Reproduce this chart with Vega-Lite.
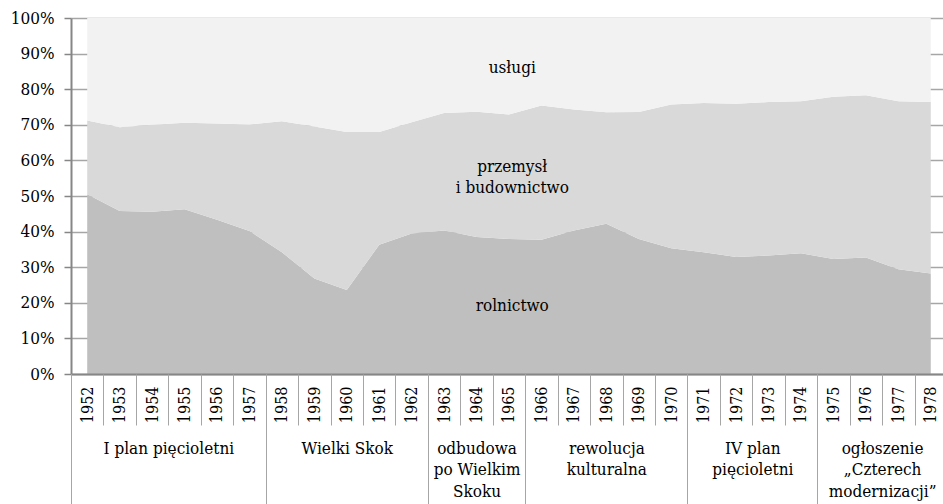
{
  "$schema": "https://vega.github.io/schema/vega-lite/v6.json",
  "width": 872,
  "height": 356,
  "autosize": "none",
  "padding": {"left": 71, "top": 18, "right": 0, "bottom": 130},
  "background": "white",
  "config": {
    "view": {"stroke": null},
    "font": "DejaVu Serif Condensed",
    "text": {"font": "DejaVu Serif Condensed"},
    "axis": {"labelFont": "DejaVu Serif Condensed", "labelFontSize": 17, "labelColor": "#000000", "title": null}
  },
  "datasets": {
    "udzialy": [
      {"rok": 1952, "sektor": "rolnictwo", "nr": 1, "udzial": 50.5},
      {"rok": 1952, "sektor": "przemysł i budownictwo", "nr": 2, "udzial": 20.7},
      {"rok": 1952, "sektor": "usługi", "nr": 3, "udzial": 28.8},
      {"rok": 1953, "sektor": "rolnictwo", "nr": 1, "udzial": 45.8},
      {"rok": 1953, "sektor": "przemysł i budownictwo", "nr": 2, "udzial": 23.5},
      {"rok": 1953, "sektor": "usługi", "nr": 3, "udzial": 30.7},
      {"rok": 1954, "sektor": "rolnictwo", "nr": 1, "udzial": 45.6},
      {"rok": 1954, "sektor": "przemysł i budownictwo", "nr": 2, "udzial": 24.4},
      {"rok": 1954, "sektor": "usługi", "nr": 3, "udzial": 30.0},
      {"rok": 1955, "sektor": "rolnictwo", "nr": 1, "udzial": 46.3},
      {"rok": 1955, "sektor": "przemysł i budownictwo", "nr": 2, "udzial": 24.3},
      {"rok": 1955, "sektor": "usługi", "nr": 3, "udzial": 29.4},
      {"rok": 1956, "sektor": "rolnictwo", "nr": 1, "udzial": 43.3},
      {"rok": 1956, "sektor": "przemysł i budownictwo", "nr": 2, "udzial": 27.1},
      {"rok": 1956, "sektor": "usługi", "nr": 3, "udzial": 29.6},
      {"rok": 1957, "sektor": "rolnictwo", "nr": 1, "udzial": 40.2},
      {"rok": 1957, "sektor": "przemysł i budownictwo", "nr": 2, "udzial": 29.9},
      {"rok": 1957, "sektor": "usługi", "nr": 3, "udzial": 29.9},
      {"rok": 1958, "sektor": "rolnictwo", "nr": 1, "udzial": 34.2},
      {"rok": 1958, "sektor": "przemysł i budownictwo", "nr": 2, "udzial": 36.8},
      {"rok": 1958, "sektor": "usługi", "nr": 3, "udzial": 29.0},
      {"rok": 1959, "sektor": "rolnictwo", "nr": 1, "udzial": 26.8},
      {"rok": 1959, "sektor": "przemysł i budownictwo", "nr": 2, "udzial": 42.7},
      {"rok": 1959, "sektor": "usługi", "nr": 3, "udzial": 30.5},
      {"rok": 1960, "sektor": "rolnictwo", "nr": 1, "udzial": 23.6},
      {"rok": 1960, "sektor": "przemysł i budownictwo", "nr": 2, "udzial": 44.4},
      {"rok": 1960, "sektor": "usługi", "nr": 3, "udzial": 32.0},
      {"rok": 1961, "sektor": "rolnictwo", "nr": 1, "udzial": 36.3},
      {"rok": 1961, "sektor": "przemysł i budownictwo", "nr": 2, "udzial": 31.7},
      {"rok": 1961, "sektor": "usługi", "nr": 3, "udzial": 32.0},
      {"rok": 1962, "sektor": "rolnictwo", "nr": 1, "udzial": 39.5},
      {"rok": 1962, "sektor": "przemysł i budownictwo", "nr": 2, "udzial": 31.2},
      {"rok": 1962, "sektor": "usługi", "nr": 3, "udzial": 29.3},
      {"rok": 1963, "sektor": "rolnictwo", "nr": 1, "udzial": 40.3},
      {"rok": 1963, "sektor": "przemysł i budownictwo", "nr": 2, "udzial": 33.0},
      {"rok": 1963, "sektor": "usługi", "nr": 3, "udzial": 26.7},
      {"rok": 1964, "sektor": "rolnictwo", "nr": 1, "udzial": 38.5},
      {"rok": 1964, "sektor": "przemysł i budownictwo", "nr": 2, "udzial": 35.2},
      {"rok": 1964, "sektor": "usługi", "nr": 3, "udzial": 26.3},
      {"rok": 1965, "sektor": "rolnictwo", "nr": 1, "udzial": 37.9},
      {"rok": 1965, "sektor": "przemysł i budownictwo", "nr": 2, "udzial": 35.0},
      {"rok": 1965, "sektor": "usługi", "nr": 3, "udzial": 27.1},
      {"rok": 1966, "sektor": "rolnictwo", "nr": 1, "udzial": 37.7},
      {"rok": 1966, "sektor": "przemysł i budownictwo", "nr": 2, "udzial": 37.7},
      {"rok": 1966, "sektor": "usługi", "nr": 3, "udzial": 24.6},
      {"rok": 1967, "sektor": "rolnictwo", "nr": 1, "udzial": 40.3},
      {"rok": 1967, "sektor": "przemysł i budownictwo", "nr": 2, "udzial": 34.0},
      {"rok": 1967, "sektor": "usługi", "nr": 3, "udzial": 25.7},
      {"rok": 1968, "sektor": "rolnictwo", "nr": 1, "udzial": 42.2},
      {"rok": 1968, "sektor": "przemysł i budownictwo", "nr": 2, "udzial": 31.3},
      {"rok": 1968, "sektor": "usługi", "nr": 3, "udzial": 26.5},
      {"rok": 1969, "sektor": "rolnictwo", "nr": 1, "udzial": 37.9},
      {"rok": 1969, "sektor": "przemysł i budownictwo", "nr": 2, "udzial": 35.7},
      {"rok": 1969, "sektor": "usługi", "nr": 3, "udzial": 26.4},
      {"rok": 1970, "sektor": "rolnictwo", "nr": 1, "udzial": 35.3},
      {"rok": 1970, "sektor": "przemysł i budownictwo", "nr": 2, "udzial": 40.4},
      {"rok": 1970, "sektor": "usługi", "nr": 3, "udzial": 24.3},
      {"rok": 1971, "sektor": "rolnictwo", "nr": 1, "udzial": 34.2},
      {"rok": 1971, "sektor": "przemysł i budownictwo", "nr": 2, "udzial": 41.9},
      {"rok": 1971, "sektor": "usługi", "nr": 3, "udzial": 23.9},
      {"rok": 1972, "sektor": "rolnictwo", "nr": 1, "udzial": 32.9},
      {"rok": 1972, "sektor": "przemysł i budownictwo", "nr": 2, "udzial": 43.0},
      {"rok": 1972, "sektor": "usługi", "nr": 3, "udzial": 24.1},
      {"rok": 1973, "sektor": "rolnictwo", "nr": 1, "udzial": 33.3},
      {"rok": 1973, "sektor": "przemysł i budownictwo", "nr": 2, "udzial": 43.1},
      {"rok": 1973, "sektor": "usługi", "nr": 3, "udzial": 23.6},
      {"rok": 1974, "sektor": "rolnictwo", "nr": 1, "udzial": 33.9},
      {"rok": 1974, "sektor": "przemysł i budownictwo", "nr": 2, "udzial": 42.7},
      {"rok": 1974, "sektor": "usługi", "nr": 3, "udzial": 23.4},
      {"rok": 1975, "sektor": "rolnictwo", "nr": 1, "udzial": 32.3},
      {"rok": 1975, "sektor": "przemysł i budownictwo", "nr": 2, "udzial": 45.6},
      {"rok": 1975, "sektor": "usługi", "nr": 3, "udzial": 22.1},
      {"rok": 1976, "sektor": "rolnictwo", "nr": 1, "udzial": 32.7},
      {"rok": 1976, "sektor": "przemysł i budownictwo", "nr": 2, "udzial": 45.6},
      {"rok": 1976, "sektor": "usługi", "nr": 3, "udzial": 21.7},
      {"rok": 1977, "sektor": "rolnictwo", "nr": 1, "udzial": 29.4},
      {"rok": 1977, "sektor": "przemysł i budownictwo", "nr": 2, "udzial": 47.2},
      {"rok": 1977, "sektor": "usługi", "nr": 3, "udzial": 23.4},
      {"rok": 1978, "sektor": "rolnictwo", "nr": 1, "udzial": 28.2},
      {"rok": 1978, "sektor": "przemysł i budownictwo", "nr": 2, "udzial": 48.2},
      {"rok": 1978, "sektor": "usługi", "nr": 3, "udzial": 23.6}
    ],
    "etykiety": [
      {"sektor": "usługi", "rok": 1965.1, "poz": 86.0, "tekst": "usługi"},
      {"sektor": "przemysł i budownictwo", "rok": 1965.1, "poz": 58.1, "tekst": ["przemysł", "i budownictwo"]},
      {"sektor": "rolnictwo", "rok": 1965.1, "poz": 19.0, "tekst": "rolnictwo"}
    ]
  },
  "layer": [
    {
      "data": {"name": "udzialy"},
      "mark": {"type": "area", "interpolate": "linear"},
      "encoding": {
        "x": {
          "field": "rok", "type": "quantitative",
          "scale": {"domain": [1951.5, 1978.377], "nice": false, "zero": false},
          "axis": {
            "orient": "bottom", "title": null, "grid": false, "ticks": false,
            "values": [1952,1953,1954,1955,1956,1957,1958,1959,1960,1961,1962,1963,1964,1965,1966,1967,1968,1969,1970,1971,1972,1973,1974,1975,1976,1977,1978],
            "format": "d", "labelAngle": -90, "labelAlign": "right", "labelBaseline": "middle", "labelFontSize": 16,
            "labelPadding": 12, "labelFlush": false, "labelOverlap": false, "labelBound": false,
            "domain": true, "domainColor": "#868686", "domainWidth": 2, "zindex": 1
          }
        },
        "y": {
          "field": "udzial", "type": "quantitative", "stack": "zero",
          "scale": {"domain": [0, 100], "nice": false},
          "axis": {
            "title": null, "values": [0,10,20,30,40,50,60,70,80,90,100],
            "labelExpr": "datum.value + '%'",
            "grid": true, "gridColor": "#a6a6a6", "gridWidth": 1.5,
            "domainColor": "#868686", "domainWidth": 2,
            "tickColor": "#868686", "tickSize": 7, "tickWidth": 1.5,
            "labelPadding": 10, "labelFlush": false, "labelOverlap": false, "labelBound": false
          }
        },
        "color": {
          "field": "sektor", "type": "nominal", "legend": null,
          "scale": {"domain": ["rolnictwo", "przemysł i budownictwo", "usługi"], "range": ["#bfbfbf", "#d9d9d9", "#f2f2f2"]}
        },
        "order": {"field": "nr", "type": "quantitative"}
      }
    },
    {
      "data": {"name": "etykiety"},
      "transform": [{"filter": "datum.sektor == 'usługi'"}],
      "mark": {"type": "text", "fontSize": 17, "color": "#000000", "align": "center", "baseline": "middle", "lineHeight": 21},
      "encoding": {
        "x": {
          "field": "rok", "type": "quantitative",
          "axis": {
            "orient": "bottom", "title": null, "grid": false, "labels": false, "domain": false,
            "values": [1951.5,1952.5,1953.5,1954.5,1955.5,1956.5,1957.5,1958.5,1959.5,1960.5,1961.5,1962.5,1963.5,1964.5,1965.5,1966.5,1967.5,1968.5,1969.5,1970.5,1971.5,1972.5,1973.5,1974.5,1975.5,1976.5,1977.5],
            "ticks": true, "tickSize": 51, "tickColor": "#a6a6a6", "tickWidth": 1, "zindex": 1
          }
        },
        "y": {"field": "poz", "type": "quantitative",
          "axis": {
            "title": null, "values": [0,10,20,30,40,50,60,70,80,90,100],
            "labelExpr": "datum.value + '%'",
            "grid": true, "gridColor": "#a6a6a6", "gridWidth": 1.5,
            "domainColor": "#868686", "domainWidth": 2,
            "tickColor": "#868686", "tickSize": 7, "tickWidth": 1.5,
            "labelPadding": 10, "labelFlush": false, "labelOverlap": false, "labelBound": false
          }},
        "text": {"field": "tekst"}
      }
    },
    {
      "data": {"name": "etykiety"},
      "transform": [{"filter": "datum.sektor == 'przemysł i budownictwo'"}],
      "mark": {"type": "text", "fontSize": 17, "color": "#000000", "align": "center", "baseline": "middle", "lineHeight": 21},
      "encoding": {
        "x": {
          "field": "rok", "type": "quantitative",
          "axis": {
            "orient": "bottom", "title": null, "grid": false, "labels": false, "domain": false,
            "values": [1951.5, 1957.5, 1962.5, 1965.5, 1970.5, 1974.5],
            "ticks": true, "tickSize": 131, "tickColor": "#a6a6a6", "tickWidth": 1, "zindex": 1
          }
        },
        "y": {"field": "poz", "type": "quantitative",
          "axis": {
            "title": null, "values": [0,10,20,30,40,50,60,70,80,90,100],
            "labelExpr": "datum.value + '%'",
            "grid": true, "gridColor": "#a6a6a6", "gridWidth": 1.5,
            "domainColor": "#868686", "domainWidth": 2,
            "tickColor": "#868686", "tickSize": 7, "tickWidth": 1.5,
            "labelPadding": 10, "labelFlush": false, "labelOverlap": false, "labelBound": false
          }},
        "text": {"field": "tekst"}
      }
    },
    {
      "data": {"name": "etykiety"},
      "transform": [{"filter": "datum.sektor == 'rolnictwo'"}],
      "mark": {"type": "text", "fontSize": 17, "color": "#000000", "align": "center", "baseline": "middle", "lineHeight": 21},
      "encoding": {
        "x": {
          "field": "rok", "type": "quantitative",
          "axis": {
            "orient": "bottom", "title": null, "grid": false, "ticks": false, "domain": false,
            "values": [1954.5, 1960, 1964, 1968, 1972.5, 1976.5],
            "labelExpr": "datum.value == 1954.5 ? 'I plan pięcioletni' : datum.value == 1960 ? 'Wielki Skok' : datum.value == 1964 ? ['odbudowa', 'po Wielkim', 'Skoku'] : datum.value == 1968 ? ['rewolucja', 'kulturalna'] : datum.value == 1972.5 ? ['IV plan', 'pięcioletni'] : ['ogłoszenie', '„Czterech', 'modernizacji”']",
            "labelAngle": 0, "labelAlign": "center", "labelBaseline": "top", "labelPadding": 66,
            "labelLineHeight": 21.5, "labelFlush": false, "labelOverlap": false, "labelBound": false, "zindex": 1
          }
        },
        "y": {"field": "poz", "type": "quantitative",
          "axis": {
            "title": null, "values": [0,10,20,30,40,50,60,70,80,90,100],
            "labelExpr": "datum.value + '%'",
            "grid": true, "gridColor": "#a6a6a6", "gridWidth": 1.5,
            "domainColor": "#868686", "domainWidth": 2,
            "tickColor": "#868686", "tickSize": 7, "tickWidth": 1.5,
            "labelPadding": 10, "labelFlush": false, "labelOverlap": false, "labelBound": false
          }},
        "text": {"field": "tekst"}
      }
    }
  ],
  "resolve": {"axis": {"x": "independent"}}
}
